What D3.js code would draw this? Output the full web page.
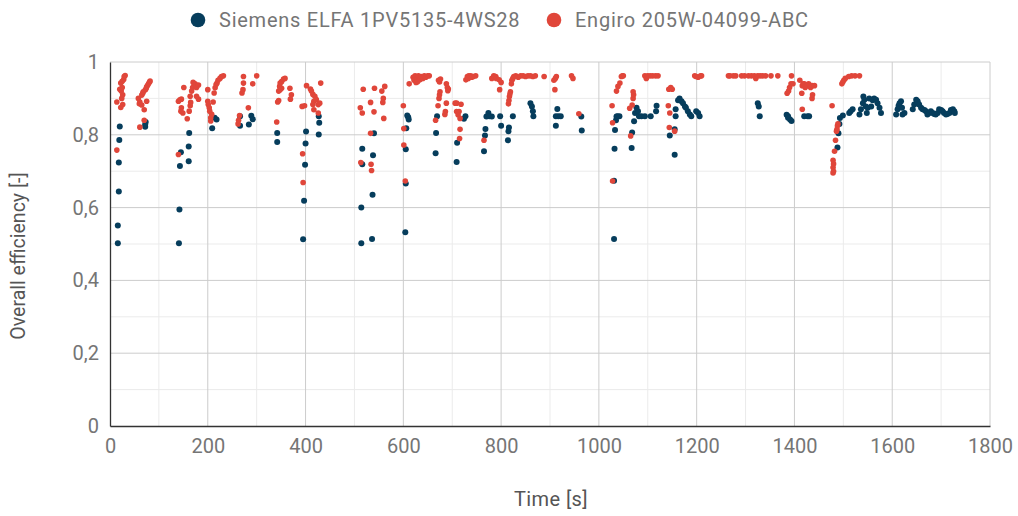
<!DOCTYPE html>
<html>
<head>
<meta charset="utf-8">
<script src="https://cdn.jsdelivr.net/npm/d3@7"></script>
<style>
  body { margin: 0; background: #fff; }
  svg { font-family: Roboto, "Noto Sans", sans-serif; }
</style>
</head>
<body>
<svg id="chart" width="1018" height="516"></svg>
<script>
const seriesNames = ["Siemens ELFA 1PV5135-4WS28", "Engiro 205W-04099-ABC"];
const seriesColors = ["#063d5c", "#e0463a"];
const xTicks = [0, 200, 400, 600, 800, 1000, 1200, 1400, 1600, 1800];
const yTicks = [0, 0.2, 0.4, 0.6, 0.8, 1];

// [time s, efficiency]
const siemens = [
[20,0.823],[19,0.786],[18,0.724],[18,0.644],[16,0.551],[16,0.502],
[72,0.822],[73,0.835],[72,0.828],
[141,0.502],[142,0.595],[143,0.714],[145,0.752],[161,0.727],[161,0.768],[162,0.805],
[209,0.818],[218,0.842],[214,0.847],
[266,0.851],[266,0.825],[284,0.828],[289,0.852],[292,0.843],
[342,0.805],[342,0.78],
[395,0.513],[397,0.619],[399,0.718],[400,0.776],[401,0.809],[427,0.851],[428,0.833],[427,0.801],
[514,0.502],[514,0.6],[516,0.719],[516,0.762],[536,0.514],[537,0.635],[538,0.744],[540,0.804],
[604,0.532],[605,0.666],[605,0.76],[606,0.818],[608,0.853],[610,0.848],[611,0.842],
[666,0.749],[667,0.805],[669,0.851],
[709,0.725],[710,0.778],[724,0.844],[727,0.851],
[765,0.755],[767,0.798],[768,0.816],[770,0.85],[774,0.86],[776,0.851],[781,0.85],
[798,0.851],[800,0.825],[814,0.785],[815,0.81],[816,0.82],[824,0.851],
[860,0.887],[863,0.878],[865,0.865],[866,0.851],
[912,0.851],[915,0.871],[917,0.851],[922,0.851],[912,0.825],
[964,0.85],[965,0.812],
[1031,0.514],[1031,0.674],[1032,0.762],[1033,0.813],[1035,0.84],[1038,0.851],[1042,0.851],[1036,0.85],
[1067,0.764],[1068,0.806],[1072,0.837],[1074,0.86],[1077,0.874],[1080,0.865],[1082,0.851],[1087,0.851],[1094,0.851],[1106,0.851],[1117,0.865],[1118,0.88],
[1145,0.798],[1155,0.745],[1155,0.815],[1157,0.851],[1157,0.87],[1162,0.895],[1165,0.9],[1169,0.892],[1172,0.887],[1176,0.878],[1178,0.874],[1182,0.865],[1186,0.856],[1189,0.851],[1199,0.865],[1203,0.86],[1206,0.851],
[1325,0.887],[1327,0.878],[1329,0.851],
[1384,0.855],[1387,0.851],[1391,0.842],[1394,0.838],[1387,0.847],
[1420,0.851],[1427,0.851],[1430,0.851],
[1488,0.765],[1490,0.804],[1492,0.83],[1493,0.846],[1499,0.853],[1512,0.86],[1515,0.865],[1519,0.87],
[1533,0.856],[1536,0.87],[1540,0.887],[1541,0.905],[1543,0.896],[1546,0.878],[1548,0.86],[1550,0.874],[1553,0.9],[1557,0.878],
[1560,0.895],[1563,0.9],[1567,0.896],[1570,0.887],[1574,0.874],[1577,0.86],
[1608,0.856],[1611,0.87],[1613,0.88],[1615,0.887],[1618,0.892],[1620,0.874],[1621,0.856],[1625,0.86],
[1642,0.87],[1645,0.883],[1649,0.896],[1652,0.892],[1655,0.883],[1659,0.874],[1662,0.87],[1666,0.868],[1669,0.865],[1672,0.856],[1676,0.86],[1679,0.865],
[1683,0.86],[1686,0.857],[1689,0.856],[1693,0.86],[1696,0.87],[1700,0.868],[1703,0.865],[1706,0.86],[1710,0.856],[1713,0.857],[1717,0.86],[1720,0.868],[1724,0.87],[1727,0.865],[1728,0.86]
];

const engiro = [
[14,0.89],[22,0.875],[14,0.758],[24,0.9],[26,0.91],[23,0.92],[20,0.925],[22,0.942],[25,0.947],[28,0.952],[29,0.96],[31,0.963],[26,0.883],[25,0.93],
[61,0.821],[70,0.84],[70,0.869],[58,0.9],[61,0.89],[65,0.909],[67,0.914],[68,0.918],[72,0.923],[74,0.927],[75,0.932],[77,0.936],[79,0.941],[81,0.945],[82,0.948],[60,0.885],[65,0.882],[75,0.892],
[140,0.746],[140,0.892],[143,0.896],[146,0.898],[146,0.874],[145,0.865],[149,0.86],[151,0.93],[158,0.844],[162,0.865],[164,0.88],[165,0.889],[164,0.906],[167,0.92],[169,0.93],[170,0.944],[174,0.94],[177,0.906],[181,0.898],[177,0.93],[181,0.937],
[200,0.924],[200,0.892],[201,0.883],[203,0.874],[204,0.865],[206,0.847],[206,0.838],[208,0.856],[211,0.89],[213,0.915],[215,0.929],[217,0.938],[219,0.942],[221,0.95],[225,0.955],[228,0.96],[232,0.962],
[262,0.83],[263,0.84],[265,0.853],[270,0.915],[272,0.924],[273,0.942],[273,0.96],[283,0.874],[292,0.94],[300,0.962],
[341,0.835],[343,0.89],[345,0.894],[345,0.92],[347,0.933],[348,0.942],[351,0.946],[355,0.953],[358,0.955],[351,0.928],[348,0.924],[368,0.928],[371,0.91],[369,0.898],
[394,0.748],[395,0.669],[393,0.878],[398,0.88],[402,0.935],[410,0.926],[412,0.92],[415,0.911],[419,0.906],[417,0.892],[415,0.883],[417,0.869],[422,0.897],[426,0.883],[429,0.887],[426,0.86],[431,0.942],
[513,0.724],[533,0.804],[534,0.719],[535,0.702],[512,0.874],[516,0.86],[518,0.925],[533,0.889],[540,0.863],[541,0.928],[556,0.92],[562,0.933],[559,0.9],[558,0.889],[560,0.845],
[604,0.673],[601,0.772],[601,0.817],[600,0.88],[612,0.94],[620,0.958],[622,0.95],[624,0.962],[626,0.944],[628,0.955],[631,0.962],[634,0.951],[637,0.96],[640,0.955],[643,0.962],[646,0.958],[650,0.962],[653,0.962],[629,0.946],
[666,0.84],[671,0.88],[673,0.9],[674,0.91],[675,0.918],[674,0.945],[676,0.953],[672,0.95],[688,0.94],[690,0.93],[692,0.926],[688,0.887],[685,0.856],[686,0.864],[691,0.921],
[706,0.887],[709,0.864],[714,0.864],[712,0.855],[716,0.845],[716,0.815],[715,0.79],[709,0.887],[718,0.884],[728,0.951],[731,0.96],[734,0.962],[738,0.962],[743,0.96],[748,0.962],[733,0.955],[740,0.958],
[765,0.785],[781,0.955],[785,0.962],[789,0.96],[790,0.955],[796,0.951],[800,0.944],[797,0.924],
[815,0.885],[816,0.894],[817,0.905],[819,0.918],[821,0.94],[822,0.95],[826,0.96],[830,0.962],[835,0.958],[840,0.962],[845,0.962],[850,0.96],[855,0.962],[860,0.962],[865,0.96],[870,0.962],[888,0.96],[818,0.912],[824,0.955],
[908,0.95],[911,0.955],[913,0.96],[910,0.924],[944,0.962],[947,0.955],[959,0.858],
[1027,0.88],[1028,0.833],[1028,0.673],[1036,0.92],[1039,0.933],[1043,0.942],[1046,0.96],[1050,0.962],[1048,0.962],
[1065,0.797],[1063,0.873],[1068,0.882],[1070,0.9],[1071,0.91],[1070,0.918],
[1094,0.962],[1097,0.955],[1100,0.962],[1105,0.962],[1110,0.962],[1116,0.962],[1121,0.962],
[1142,0.88],[1144,0.82],[1145,0.86],[1143,0.925],[1147,0.93],[1150,0.925],[1155,0.81],
[1196,0.962],[1199,0.96],[1203,0.958],[1208,0.962],[1210,0.962],
[1265,0.962],[1268,0.962],[1275,0.962],[1280,0.962],[1292,0.962],[1298,0.962],[1306,0.962],[1312,0.962],[1318,0.962],[1321,0.955],[1325,0.962],[1330,0.962],[1335,0.962],[1341,0.962],[1352,0.962],[1366,0.962],
[1385,0.914],[1388,0.92],[1390,0.93],[1393,0.94],[1397,0.94],[1394,0.962],[1411,0.95],[1416,0.935],[1418,0.94],[1420,0.94],[1422,0.93],[1425,0.935],[1429,0.94],[1433,0.93],[1436,0.935],[1441,0.935],[1415,0.914],[1436,0.9],[1437,0.91],[1416,0.87],
[1477,0.88],[1479,0.73],[1480,0.72],[1479,0.71],[1479,0.695],[1480,0.7],[1482,0.755],[1484,0.785],[1486,0.81],[1487,0.815],[1488,0.825],[1489,0.83],
[1497,0.94],[1499,0.945],[1501,0.95],[1504,0.955],[1511,0.96],[1517,0.962],[1524,0.962],[1533,0.962]
];

const svg = d3.select("#chart");
const margin = {left: 110, right: 28, top: 62, bottom: 90};
const W = 1018, H = 516;
const x = d3.scaleLinear().domain([0, 1800]).range([margin.left, W - margin.right]);
const y = d3.scaleLinear().domain([0, 1]).range([H - margin.bottom, margin.top]);
const fmt = d => d3.format(".1f")(d).replace(".", ",").replace(/^0,0$/, "0").replace(/,0$/, "");

// minor grid
svg.append("g").selectAll("line").data(d3.range(100, 1800, 200)).join("line")
  .attr("x1", d => x(d)).attr("x2", d => x(d)).attr("y1", y(0)).attr("y2", y(1))
  .attr("stroke", "#ebebeb");
svg.append("g").selectAll("line").data(d3.range(0.1, 1, 0.2)).join("line")
  .attr("x1", x(0)).attr("x2", x(1800)).attr("y1", d => y(d)).attr("y2", d => y(d))
  .attr("stroke", "#ebebeb");
// major grid
svg.append("g").selectAll("line").data(xTicks.slice(1)).join("line")
  .attr("x1", d => x(d)).attr("x2", d => x(d)).attr("y1", y(0)).attr("y2", y(1))
  .attr("stroke", "#cccccc");
svg.append("g").selectAll("line").data(yTicks.slice(1)).join("line")
  .attr("x1", x(0)).attr("x2", x(1800)).attr("y1", d => y(d)).attr("y2", d => y(d))
  .attr("stroke", "#cccccc");

// axes
const xAxis = svg.append("g").attr("transform", `translate(0,${y(0)})`)
  .call(d3.axisBottom(x).tickValues(xTicks).tickSize(0).tickPadding(13).tickFormat(d3.format("d")));
const yAxis = svg.append("g").attr("transform", `translate(${x(0)},0)`)
  .call(d3.axisLeft(y).tickValues(yTicks).tickSize(0).tickPadding(11).tickFormat(fmt));
[xAxis, yAxis].forEach(g => {
  g.select(".domain").attr("stroke", "#333").attr("stroke-width", 1.3);
  g.selectAll("text").attr("fill", "#757575").attr("font-size", 20).attr("font-family", "Roboto");
});

// points
const plot = svg.append("g");
[siemens, engiro].forEach((pts, i) => {
  plot.append("g").selectAll("circle").data(pts).join("circle")
    .attr("cx", d => x(d[0])).attr("cy", d => y(d[1]))
    .attr("r", i === 0 ? 3 : 2.8)
    .attr("fill", seriesColors[i]);
});

// legend
const legendX = [198, 554];
seriesNames.forEach((n, i) => {
  svg.append("circle").attr("cx", legendX[i]).attr("cy", 20).attr("r", 7.3).attr("fill", seriesColors[i]);
  svg.append("text").attr("x", legendX[i] + 21).attr("y", 27).text(n)
    .attr("fill", "#757575").attr("font-size", 20).attr("letter-spacing", 0.75);
});

// axis titles
svg.append("text").attr("x", 551).attr("y", 506).attr("text-anchor", "middle")
  .attr("fill", "#555").attr("font-size", 20).attr("letter-spacing", 0.4).text("Time [s]");
svg.append("text").attr("transform", "translate(25,256) rotate(-90)").attr("text-anchor", "middle")
  .attr("fill", "#555").attr("font-size", 19.5).text("Overall efficiency [-]");
</script>
</body>
</html>
